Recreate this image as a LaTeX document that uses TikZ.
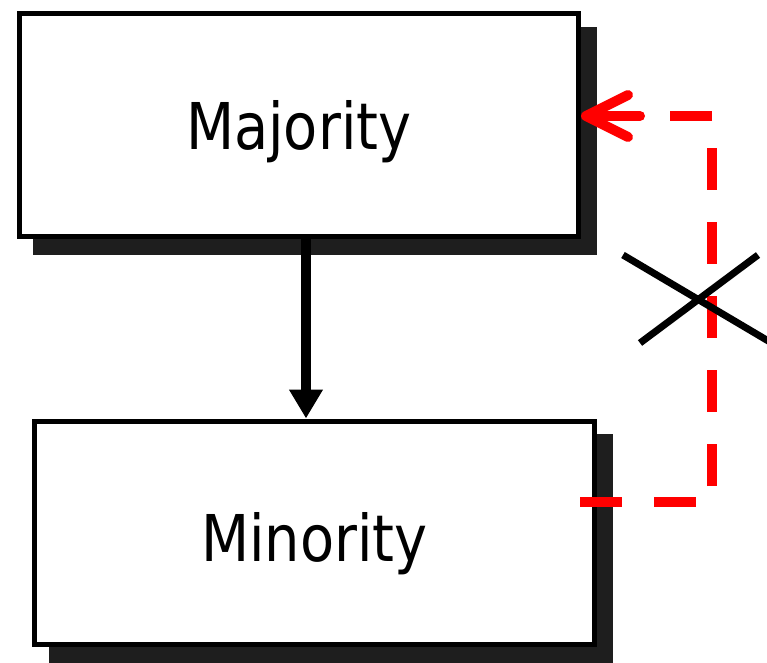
\documentclass[tikz,border=0pt]{standalone}
\usepackage{fontspec}
\newfontfamily\lblfont[FakeStretch=0.865]{DejaVu Sans}
\usetikzlibrary{arrows.meta,calc}
\definecolor{shadowc}{HTML}{1E1E1E}
\tikzset{
  box/.style={draw=black, line width=5pt, fill=white, inner sep=0pt,
    font=\lblfont\fontsize{64.5}{70}\selectfont},
  flow/.style={line width=10pt, -{Triangle[length=29pt,width=32pt]}},
  blocked/.style={draw=red, line width=10pt, dash pattern=on 42pt off 32pt, line cap=butt},
  blockedtip/.style={draw=red, line width=10pt, line cap=round,
    -{Straight Barb[length=42pt,width=42pt,line cap=round,line join=round]}},
  cross/.style={line width=7pt}
}
\begin{document}
\begin{tikzpicture}[x=1pt,y=1pt]
\useasboundingbox (0,0) rectangle (767,662);
% shadows
\path (298.75,536.75) coordinate (majc) (314.5,129.5) coordinate (minc);
\fill[shadowc] (32.5,407) rectangle (597,634.5);
\fill[shadowc] (48.5,-5) rectangle (613,228);
% boxes
\node[box, minimum width=559.5pt, minimum height=222.5pt, text height=49.5pt, text depth=0pt] (maj) at (majc) {Majority};
\node[box, minimum width=560pt, minimum height=223pt, text height=57pt, text depth=0pt] (min) at (minc) {Minority};
% main arrow
\coordinate (ax) at (306,0);
\draw[flow] (maj.south -| ax) -- (min.north -| ax);
% blocked feedback
\coordinate (r0) at (580,160);
\coordinate (r1) at (712,160);
\coordinate (r2) at (712,546);
\coordinate (r3) at (640,546);
\draw[blocked] (r0) -- (r1) -- (r2) -- (r3);
\draw[blockedtip] (r3) -- (r3 -| maj.east);
% cross
\coordinate (c1) at (623,407);
\coordinate (c2) at (770,320);
\coordinate (c3) at (640,319);
\coordinate (c4) at (758,407);
\draw[cross] (c1) -- (c2);
\draw[cross] (c3) -- (c4);
\end{tikzpicture}
\end{document}
